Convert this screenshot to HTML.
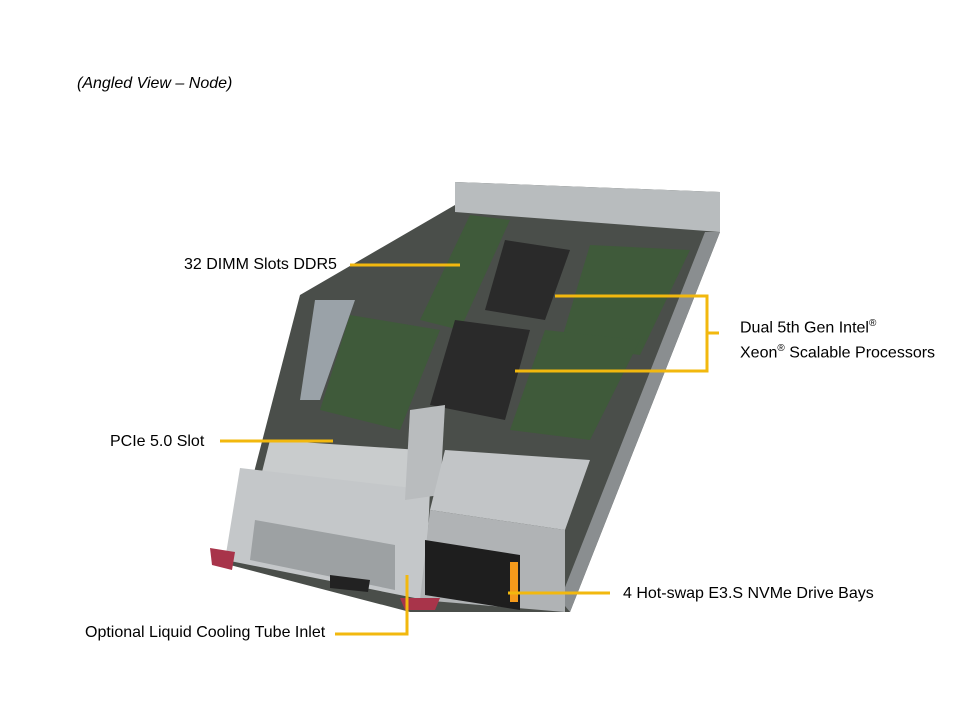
<!DOCTYPE html>
<html><head><style>
body{margin:0;width:960px;height:720px;background:#fff;overflow:hidden;font-family:"Liberation Sans",sans-serif;}
.t{position:absolute;font-size:16px;color:#000;white-space:nowrap;}
</style></head><body>
<div class="t" style="left:77px;top:75px;font-style:italic;">(Angled View – Node)</div>
<svg width="960" height="720" style="position:absolute;left:0;top:0">
<polygon points="455,182 720,192 720,232 570,612 410,612 230,565 300,295 455,205" fill="#4a4e4a"/>
<polygon points="455,182 720,192 720,232 455,212" fill="#b8bcbe"/>
<polygon points="720,232 705,232 560,600 570,612" fill="#8a8e90"/>
<polygon points="470,215 510,220 460,330 420,320" fill="#3f5a3a"/>
<polygon points="590,245 690,250 640,355 560,345" fill="#3f5a3a"/>
<polygon points="350,315 440,330 400,430 320,410" fill="#3f5a3a"/>
<polygon points="545,330 640,340 590,440 510,430" fill="#3f5a3a"/>
<polygon points="505,240 570,250 545,320 485,310" fill="#2a2a2a"/>
<polygon points="455,320 530,330 505,420 430,405" fill="#2a2a2a"/>
<polygon points="315,300 355,300 320,400 300,400" fill="#9aa2a8"/>
<polygon points="270,440 420,450 410,500 260,480" fill="#c9cccd"/>
<polygon points="240,468 430,490 425,600 225,560" fill="#c4c7c9"/>
<polygon points="255,520 395,545 395,590 250,560" fill="#9da1a3"/>
<polygon points="410,410 445,405 440,495 405,500" fill="#b9bcbe"/>
<polygon points="445,450 590,460 565,530 430,510" fill="#c2c5c7"/>
<polygon points="430,510 565,530 565,612 420,600" fill="#b0b3b5"/>
<polygon points="425,540 520,555 520,610 425,595" fill="#1e1e1e"/>
<rect x="510" y="562" width="8" height="40" fill="#f59a1b"/>
<polygon points="210,548 235,552 232,570 212,565" fill="#a8344a"/>
<polygon points="330,575 370,580 368,592 330,588" fill="#222"/>
<polygon points="400,598 440,598 435,610 405,610" fill="#a8344a"/>
<g stroke="#f2b80e" stroke-width="3" fill="none">
<line x1="350" y1="265" x2="460" y2="265"/>
<polyline points="555,296 707,296 707,371 515,371"/>
<line x1="707" y1="333" x2="719" y2="333"/>
<line x1="220" y1="441" x2="333" y2="441"/>
<line x1="508" y1="593" x2="610" y2="593"/>
<polyline points="407,575 407,634 335,634"/>
</g>
</svg>
<div class="t" style="left:184px;top:256px;">32 DIMM Slots DDR5</div>
<div class="t" style="left:740px;top:313px;line-height:21px;">Dual 5th Gen Intel<sup style="font-size:10px">®</sup><br>Xeon<sup style="font-size:10px">®</sup> Scalable Processors</div>
<div class="t" style="left:110px;top:433px;">PCIe 5.0 Slot</div>
<div class="t" style="left:623px;top:585px;">4 Hot-swap E3.S NVMe Drive Bays</div>
<div class="t" style="left:85px;top:624px;">Optional Liquid Cooling Tube Inlet</div>
</body></html>
